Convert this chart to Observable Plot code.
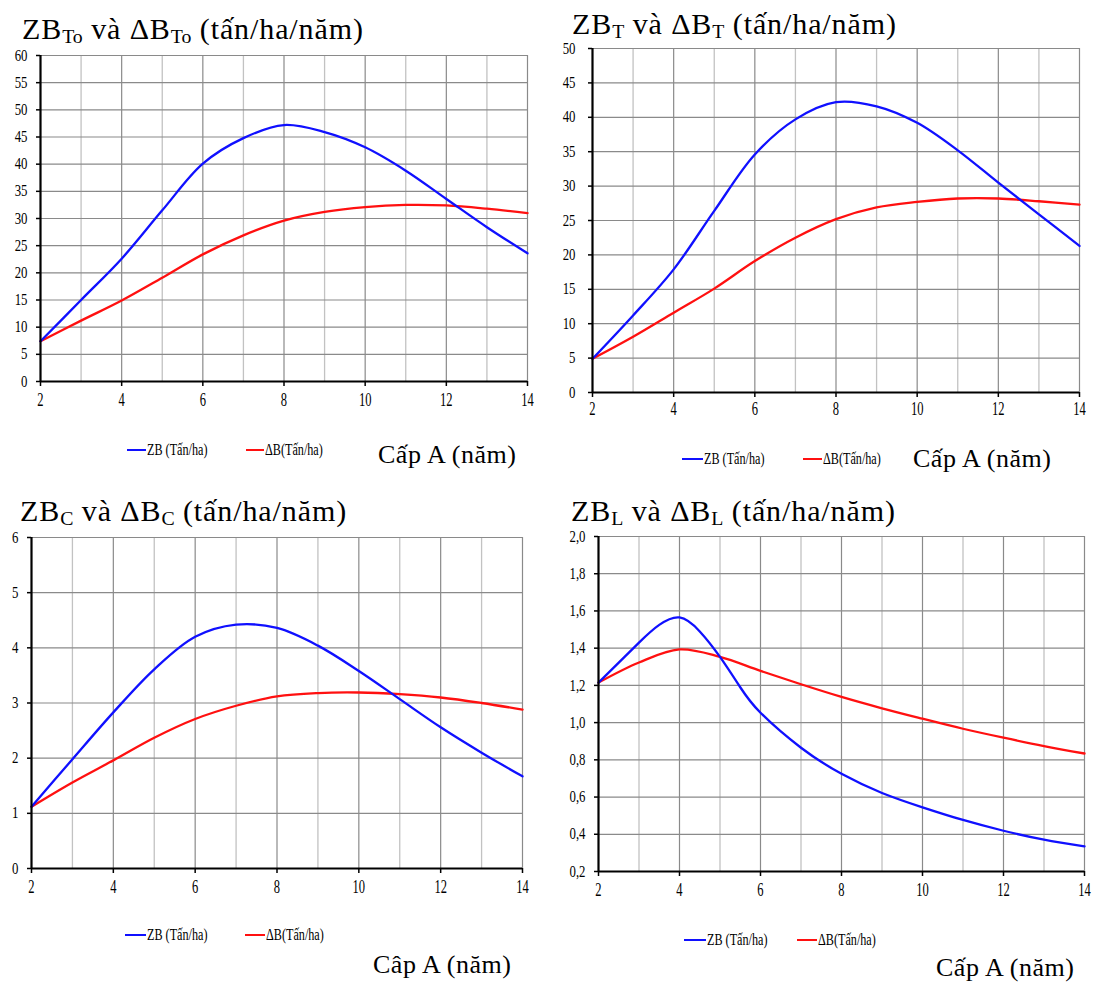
<!DOCTYPE html>
<html><head><meta charset="utf-8">
<script src="https://cdn.jsdelivr.net/npm/d3@7"></script>
<script src="https://cdn.jsdelivr.net/npm/@observablehq/plot@0.6"></script>
<style>
body{margin:0;background:#fff;}
#root{position:relative;width:1094px;height:983px;overflow:hidden;font-family:"Liberation Serif","Times New Roman",serif;color:#000;}
.abs{position:absolute;white-space:nowrap;}
.title{font-size:30px;line-height:30px;letter-spacing:0.9px;}
.title sub{font-size:0.66em;vertical-align:baseline;position:relative;top:0.22em;letter-spacing:0;}
.xlab{font-size:26px;line-height:26px;letter-spacing:0.5px;}
.leg{font-size:16px;line-height:16px;transform:scaleX(0.76);transform-origin:left center;}
.sw{position:absolute;height:2.5px;}
svg{position:absolute;overflow:visible;}
svg text{font-family:"Liberation Serif","Times New Roman",serif;}
</style></head><body><div id="root"></div>
<script>
// ---- data ----
const ages = [2,3,4,5,6,7,8,9,10,11,12,13,14];
const xTicks = [2,4,6,8,10,12,14];
const gridX = [3,4,5,6,7,8,9,10,11,12,13];

// Panel To
const zbTo = [7.4,15.0,22.6,31.5,40.1,44.8,47.2,45.9,43.1,38.8,33.6,28.4,23.6];
const dbTo = [7.4,11.2,14.9,19.1,23.4,26.9,29.6,31.2,32.1,32.5,32.4,31.8,31.0];
const yTicksTo = [0,5,10,15,20,25,30,35,40,45,50,55,60];

// Panel T
const zbT = [4.9,11.2,17.9,26.4,34.6,39.7,42.2,41.6,39.2,35.2,30.5,25.9,21.3];
const dbT = [4.9,8.1,11.6,15.1,19.1,22.5,25.2,26.9,27.7,28.2,28.2,27.8,27.3];
const yTicksT = [0,5,10,15,20,25,30,35,40,45,50];

// Panel C
const zbC = [1.12,1.98,2.83,3.61,4.20,4.42,4.36,4.04,3.58,3.07,2.56,2.10,1.67];
const dbC = [1.12,1.56,1.96,2.37,2.71,2.95,3.12,3.18,3.19,3.16,3.10,3.00,2.88];
const yTicksC = [0,1,2,3,4,5,6];

// Panel L
const agesZbL = [2,3,3.5,4,4.5,5,5.5,6,7,8,9,10,11,12,13,14];
const zbL = [1.215,1.43,1.525,1.565,1.49,1.353,1.19,1.053,0.865,0.725,0.622,0.545,0.477,0.419,0.371,0.335];
const dbL = [1.215,1.323,1.393,1.353,1.278,1.206,1.138,1.077,1.021,0.967,0.919,0.874,0.834];
const yTicksL = [0.2,0.4,0.6,0.8,1.0,1.2,1.4,1.6,1.8,2.0];

const legendZB = "ZB (Tấn/ha)";
const legendDB = "ΔB(Tấn/ha)";

const panels = [
  {colX:0, box:[40,55,527,381], yTicks:yTicksTo, zbX:ages, zb:zbTo, dbX:ages, db:dbTo, fmt:d=>String(d), xPad:6, yPad:9, zbCurve:"catmull-rom",
   title:'ZB<sub>To</sub> và ΔB<sub>To</sub> (tấn/ha/năm)', titlePos:[22,14],
   leg:{y:450, blue:[127,146], red:[246,264]}, xlab:{text:"Cấp A (năm)", x:378, y:442}},
  {colX:550, box:[592,48,1079,392], yTicks:yTicksT, zbX:ages, zb:zbT, dbX:ages, db:dbT, fmt:d=>String(d), xPad:4, yPad:13, zbCurve:"catmull-rom",
   title:'ZB<sub>T</sub> và ΔB<sub>T</sub> (tấn/ha/năm)', titlePos:[572,9],
   leg:{y:459, blue:[682,703], red:[803,822]}, xlab:{text:"Cấp A (năm)", x:913, y:446}},
  {colX:0, box:[31,537,522,868], yTicks:yTicksC, zbX:ages, zb:zbC, dbX:ages, db:dbC, fmt:d=>String(d), xPad:6, yPad:9, zbCurve:"catmull-rom",
   title:'ZB<sub>C</sub> và ΔB<sub>C</sub> (tấn/ha/năm)', titlePos:[20,496],
   leg:{y:935, blue:[125,146], red:[245,265]}, xlab:{text:"Câp A (năm)", x:373, y:952}},
  {colX:550, box:[598,536,1084,871], yTicks:yTicksL, zbX:agesZbL, zb:zbL, dbX:ages, db:dbL, fmt:d=>d.toFixed(1).replace(".", ","), xPad:6, yPad:9, zbCurve:"natural",
   title:'ZB<sub>L</sub> và ΔB<sub>L</sub> (tấn/ha/năm)', titlePos:[571,496],
   leg:{y:940, blue:[684,706], red:[797,817]}, xlab:{text:"Cấp A (năm)", x:936, y:955}}
];

const root = document.getElementById("root");
const BLUE = "#1010ff", RED = "#ff1010";
const SERIF = "Liberation Serif";

function squeeze(svg, label, sx){
  svg.querySelectorAll(`g[aria-label="${label}"] text`).forEach(t => {
    const tr = t.getAttribute("transform");
    if (tr) t.setAttribute("transform", tr + ` scale(${sx},1)`);
    else {
      const x = +t.getAttribute("x") || 0, y = +t.getAttribute("y") || 0;
      t.setAttribute("x", 0); t.setAttribute("y", 0);
      t.setAttribute("transform", `translate(${x},${y}) scale(${sx},1)`);
    }
  });
}

for (const p of panels) {
  const [L,T,R,B] = p.box;
  const mL = L - p.colX, mT = 10, mR = 12, mB = 40;
  const width = R - L + mL + mR, height = B - T + mT + mB;
  const y0 = p.yTicks[0], y1 = p.yTicks[p.yTicks.length-1];
  const zbData = p.zbX.map((a,i)=>({age:a, v:p.zb[i]}));
  const dbData = p.dbX.map((a,i)=>({age:a, v:p.db[i]}));
  const svg = Plot.plot({
    width, height, marginLeft:mL, marginTop:mT, marginRight:mR, marginBottom:mB,
    style:{background:"transparent", fontFamily:SERIF, color:"#000"},
    x:{domain:[2,14], label:null},
    y:{domain:[y0,y1], label:null},
    marks:[
      Plot.ruleX(gridX.filter(d=>d%2===1), {stroke:"#c2c2c2", strokeWidth:1.3}),
      Plot.ruleX(gridX.filter(d=>d%2===0), {stroke:"#8a8a8a", strokeWidth:1.2}),
      Plot.ruleY(p.yTicks.slice(1), {stroke:"#8a8a8a", strokeWidth:1.2}),
      Plot.ruleX([14], {stroke:"#8a8a8a", strokeWidth:1.2}),
      Plot.line(dbData, {x:"age", y:"v", stroke:RED, strokeWidth:2.3, curve:"catmull-rom"}),
      Plot.line(zbData, {x:"age", y:"v", stroke:BLUE, strokeWidth:2.3, curve:p.zbCurve}),
      Plot.ruleX([2], {stroke:"#000", strokeWidth:2.2}),
      Plot.ruleY([y0], {stroke:"#000", strokeWidth:2.2}),
      Plot.axisX(xTicks, {tickSize:5, tickPadding:p.xPad, fontSize:19, fontFamily:SERIF, label:null, tickFormat:d=>String(d), strokeWidth:1.5}),
      Plot.axisY(p.yTicks, {tickSize:4, tickPadding:p.yPad, fontSize:16, fontFamily:SERIF, label:null, tickFormat:p.fmt, strokeWidth:1.5})
    ]
  });
  svg.style.left = p.colX + "px";
  svg.style.top = (T - mT) + "px";
  squeeze(svg, "x-axis tick label", 0.66);
  squeeze(svg, "y-axis tick label", 0.8);
  root.appendChild(svg);

  const title = document.createElement("div");
  title.className = "abs title";
  title.innerHTML = p.title;
  title.style.left = p.titlePos[0] + "px";
  title.style.top = p.titlePos[1] + "px";
  root.appendChild(title);

  const addSw = (x0,x1,col) => {
    const s = document.createElement("div");
    s.className = "sw";
    s.style.left = x0 + "px"; s.style.width = (x1-x0) + "px";
    s.style.top = (p.leg.y - 1.25) + "px"; s.style.background = col;
    root.appendChild(s);
  };
  const addTxt = (x,txt) => {
    const d = document.createElement("div");
    d.className = "abs leg";
    d.textContent = txt;
    d.style.left = x + "px"; d.style.top = (p.leg.y - 8) + "px";
    root.appendChild(d);
  };
  addSw(p.leg.blue[0], p.leg.blue[1], BLUE); addTxt(p.leg.blue[1]+1, legendZB);
  addSw(p.leg.red[0], p.leg.red[1], RED); addTxt(p.leg.red[1]+1, legendDB);

  const xl = document.createElement("div");
  xl.className = "abs xlab";
  xl.textContent = p.xlab.text;
  xl.style.left = p.xlab.x + "px"; xl.style.top = p.xlab.y + "px";
  root.appendChild(xl);
}
</script></body></html>
